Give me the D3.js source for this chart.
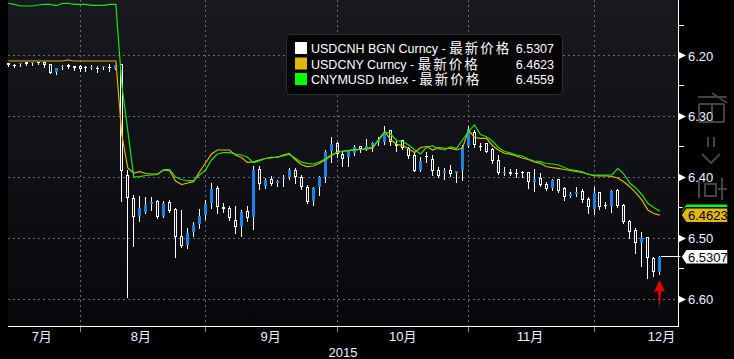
<!DOCTYPE html>
<html>
<head>
<meta charset="utf-8">
<script src="https://cdnjs.cloudflare.com/ajax/libs/d3/7.8.5/d3.min.js"></script>
<style>
    html, body { margin: 0; padding: 0; background: #000; }
    svg { display: block; }
    text { font-family: "Liberation Sans", Arial, "Noto Sans CJK SC", sans-serif; }
</style>
</head>
<body>
<div id="chart"></div>
<script>
// USDCNH daily candles, 16 Jul - mid Dec 2015 (one entry per trading day)
var opens = [
    6.2128, 6.2156, 6.2145, 6.2107, 6.2123, 6.2107, 6.2107, 6.2145, 6.2271, 6.2189,
    6.2151, 6.2172, 6.2177, 6.2184, 6.2205, 6.2205, 6.2194, 6.2189, 6.2222, 6.2145,
    6.3963, 6.4345, 6.4631, 6.4565, 6.4434, 6.4384, 6.4631, 6.4406, 6.4526, 6.4964,
    6.5112, 6.4894, 6.4767, 6.4620, 6.4417, 6.4181, 6.4483, 6.4499, 6.4702, 6.4795,
    6.4554, 6.4657, 6.3869, 6.4143, 6.4028, 6.4099, 6.4034, 6.3992, 6.3881, 6.3992,
    6.4154, 6.4384, 6.4154, 6.4001, 6.3563, 6.3442, 6.3626, 6.3675, 6.3601, 6.3491,
    6.3531, 6.3465, 6.3421, 6.3429, 6.3229, 6.3453, 6.3388, 6.3524, 6.3634, 6.3881,
    6.3651, 6.3705, 6.3881, 6.3925, 6.3881, 6.3925, 6.3881, 6.3481, 6.3252, 6.3486,
    6.3442, 6.3541, 6.3716, 6.3930, 6.3909, 6.3922, 6.3914, 6.3919, 6.4078, 6.4007,
    6.4116, 6.4181, 6.4034, 6.4171, 6.4302, 6.4274, 6.4220, 6.4357, 6.4526, 6.4247,
    6.4455, 6.4466, 6.4214, 6.4455, 6.4718, 6.4866, 6.5075, 6.4986, 6.5321, 6.5561
];
var highs = [
    6.2168, 6.2184, 6.2168, 6.2161, 6.2156, 6.2135, 6.2184, 6.2283, 6.2304, 6.2227,
    6.2205, 6.2238, 6.2255, 6.2255, 6.2222, 6.2271, 6.2217, 6.2255, 6.2222, 6.4384,
    6.5961, 6.5124, 6.4713, 6.4592, 6.4537, 6.4674, 6.4647, 6.4570, 6.5304, 6.5150,
    6.5167, 6.4960, 6.4828, 6.4685, 6.4509, 6.4592, 6.4565, 6.4702, 6.4920, 6.4964,
    6.4713, 6.4850, 6.4197, 6.4181, 6.4127, 6.4138, 6.4138, 6.4034, 6.4090, 6.4197,
    6.4417, 6.4455, 6.4291, 6.4073, 6.3754, 6.3672, 6.3810, 6.3810, 6.3634, 6.3590,
    6.3552, 6.3569, 6.3470, 6.3449, 6.3475, 6.3563, 6.3536, 6.3689, 6.3897, 6.3892,
    6.3744, 6.3963, 6.4001, 6.4028, 6.3979, 6.4073, 6.4044, 6.3498, 6.3508, 6.3552,
    6.3590, 6.3771, 6.3947, 6.3963, 6.3968, 6.4001, 6.4001, 6.4171, 6.4220, 6.4143,
    6.4209, 6.4209, 6.4237, 6.4373, 6.4329, 6.4307, 6.4411, 6.4592, 6.4603, 6.4521,
    6.4510, 6.4565, 6.4483, 6.4746, 6.5002, 6.5239, 6.5457, 6.5660, 6.5617, 6.5594
];
var lows = [
    6.2128, 6.2140, 6.2128, 6.2107, 6.2107, 6.2107, 6.2107, 6.2145, 6.2210, 6.2156,
    6.2135, 6.2172, 6.2156, 6.2168, 6.2156, 6.2168, 6.2168, 6.2145, 6.2161, 6.2145,
    6.3881, 6.4291, 6.4302, 6.4329, 6.4329, 6.4373, 6.4389, 6.4373, 6.4499, 6.4537,
    6.4838, 6.4730, 6.4521, 6.4373, 6.4099, 6.4143, 6.4427, 6.4472, 6.4472, 6.4537,
    6.4472, 6.3815, 6.3810, 6.4016, 6.3979, 6.4044, 6.3963, 6.3853, 6.3853, 6.3963,
    6.4127, 6.4165, 6.3979, 6.3552, 6.3343, 6.3416, 6.3569, 6.3552, 6.3470, 6.3481,
    6.3371, 6.3416, 6.3334, 6.3166, 6.3224, 6.3388, 6.3388, 6.3498, 6.3607, 6.3662,
    6.3580, 6.3634, 6.3826, 6.3853, 6.3799, 6.3892, 6.3470, 6.3158, 6.3224, 6.3432,
    6.3432, 6.3524, 6.3634, 6.3837, 6.3869, 6.3869, 6.3892, 6.3909, 6.3869, 6.3935,
    6.4083, 6.4034, 6.4034, 6.4154, 6.4242, 6.4165, 6.4197, 6.4319, 6.4154, 6.4236,
    6.4401, 6.4209, 6.4197, 6.4444, 6.4702, 6.4838, 6.4894, 6.4976, 6.5304, 6.5293
];
var closes = [
    6.2156, 6.2168, 6.2128, 6.2145, 6.2107, 6.2123, 6.2151, 6.2283, 6.2210, 6.2172,
    6.2194, 6.2210, 6.2227, 6.2205, 6.2189, 6.2222, 6.2168, 6.2205, 6.2161, 6.3892,
    6.4348, 6.4647, 6.4499, 6.4455, 6.4401, 6.4657, 6.4417, 6.4549, 6.4976, 6.5129,
    6.4920, 6.4784, 6.4636, 6.4439, 6.4192, 6.4493, 6.4521, 6.4674, 6.4812, 6.4570,
    6.4674, 6.3881, 6.4110, 6.4044, 6.4110, 6.4061, 6.4007, 6.3881, 6.3992, 6.4166,
    6.4401, 6.4181, 6.4001, 6.3590, 6.3453, 6.3626, 6.3700, 6.3569, 6.3503, 6.3539,
    6.3491, 6.3432, 6.3383, 6.3252, 6.3421, 6.3486, 6.3524, 6.3646, 6.3892, 6.3733,
    6.3667, 6.3892, 6.3979, 6.3892, 6.3947, 6.3892, 6.3508, 6.3212, 6.3470, 6.3503,
    6.3580, 6.3733, 6.3925, 6.3914, 6.3952, 6.3938, 6.3935, 6.4073, 6.4034, 6.4127,
    6.4192, 6.4044, 6.4225, 6.4319, 6.4274, 6.4236, 6.4373, 6.4483, 6.4263, 6.4483,
    6.4472, 6.4225, 6.4466, 6.4730, 6.4894, 6.5075, 6.4993, 6.5331, 6.5561, 6.5307
];
// USDCNY Curncy, last price
var usdcny = [
    6.2090, 6.2090, 6.2090, 6.2090, 6.2090, 6.2090, 6.2090, 6.2090, 6.2090, 6.2090,
    6.2074, 6.2090, 6.2090, 6.2090, 6.2090, 6.2090, 6.2090, 6.2090, 6.2090, 6.3306,
    6.3848, 6.3930, 6.3909, 6.3938, 6.3947, 6.3947, 6.3881, 6.3897, 6.4061, 6.4119,
    6.4094, 6.4073, 6.3909, 6.3766, 6.3618, 6.3552, 6.3552, 6.3552, 6.3634, 6.3675,
    6.3757, 6.3749, 6.3716, 6.3692, 6.3672, 6.3672, 6.3634, 6.3610, 6.3708, 6.3790,
    6.3826, 6.3815, 6.3774, 6.3716, 6.3651, 6.3585, 6.3569, 6.3560, 6.3544, 6.3541,
    6.3536, 6.3519, 6.3371, 6.3251, 6.3388, 6.3459, 6.3478, 6.3536, 6.3593, 6.3511,
    6.3495, 6.3552, 6.3514, 6.3524, 6.3527, 6.3552, 6.3519, 6.3224, 6.3347, 6.3360,
    6.3360, 6.3478, 6.3552, 6.3606, 6.3621, 6.3651, 6.3684, 6.3708, 6.3749, 6.3771,
    6.3823, 6.3843, 6.3853, 6.3873, 6.3889, 6.3905, 6.3922, 6.3947, 6.3975, 6.3979,
    6.3979, 6.3988, 6.4012, 6.4078, 6.4155, 6.4258, 6.4373, 6.4537, 6.4595, 6.4623
];
// CNYMUSD Index, last price
var cnymusd = [
    6.1142, 6.1159, 6.1187, 6.1187, 6.1187, 6.1170, 6.1159, 6.1159, 6.1182, 6.1146,
    6.1142, 6.1159, 6.1159, 6.1159, 6.1175, 6.1175, 6.1175, 6.1159, 6.1159, 6.2484,
    6.3240, 6.3996, 6.3991, 6.3971, 6.3963, 6.3955, 6.3873, 6.3873, 6.3996, 6.4037,
    6.4057, 6.4057, 6.3963, 6.3881, 6.3716, 6.3618, 6.3597, 6.3597, 6.3618, 6.3634,
    6.3667, 6.3761, 6.3733, 6.3692, 6.3684, 6.3667, 6.3651, 6.3626, 6.3684, 6.3749,
    6.3771, 6.3782, 6.3749, 6.3700, 6.3634, 6.3593, 6.3577, 6.3563, 6.3555, 6.3544,
    6.3527, 6.3495, 6.3388, 6.3257, 6.3290, 6.3400, 6.3416, 6.3470, 6.3552, 6.3618,
    6.3503, 6.3486, 6.3536, 6.3552, 6.3503, 6.3527, 6.3388, 6.3252, 6.3141, 6.3298,
    6.3334, 6.3405, 6.3511, 6.3577, 6.3597, 6.3634, 6.3651, 6.3700, 6.3733, 6.3744,
    6.3774, 6.3782, 6.3794, 6.3840, 6.3876, 6.3889, 6.3905, 6.3955, 6.3963, 6.3963,
    6.3963, 6.3963, 6.3853, 6.3947, 6.4099, 6.4176, 6.4283, 6.4428, 6.4497, 6.4559
];

// axis stuff (trading-day index of each month start)
var monthStarts = [12, 33, 55, 77, 98];
var monthNames = ["7月", "8月", "9月", "10月", "11月", "12月"];
var monthNamePos = [5.6, 22.2, 43.9, 66, 87.3, 109.3];
var yTicks = [6.20, 6.30, 6.40, 6.50, 6.60];
var yMinorTicks = [6.15, 6.25, 6.35, 6.45, 6.55];
var seriesNames = ["USDCNH BGN Curncy", "USDCNY Curncy", "CNYMUSD Index"];
var seriesLast = [6.5307, 6.4623, 6.4559];
var seriesColors = ["#ffffff", "#e2b712", "#00ff00"];

var W = 734, H = 359;
var plot = {left: 8, right: 678, top: 0, bottom: 326};

var x = d3.scaleLinear().domain([12, 98]).range([80, 594]);
var y = d3.scaleLinear().domain([6.2, 6.6]).range([55.5, 299]);

var svg = d3.select("#chart").append("svg")
        .attr("width", W)
        .attr("height", H);

svg.append("rect").attr("width", W).attr("height", H).attr("fill", "#000");

var grad = svg.append("defs").append("linearGradient")
        .attr("id", "bg").attr("x1", 0).attr("y1", 0).attr("x2", 0).attr("y2", 1);
grad.append("stop").attr("offset", "0%").attr("stop-color", "#18191f");
grad.append("stop").attr("offset", "100%").attr("stop-color", "#08080c");

svg.append("rect")
        .attr("x", plot.left).attr("y", plot.top)
        .attr("width", plot.right - plot.left)
        .attr("height", plot.bottom - plot.top)
        .attr("fill", "url(#bg)");

// grid
var grid = svg.append("g").attr("stroke", "#6c6c70").attr("stroke-dasharray", "2,3");
grid.selectAll("line.h").data(yTicks).enter().append("line")
        .attr("x1", plot.left).attr("x2", plot.right)
        .attr("y1", function(d) { return Math.floor(y(d)) + 0.5; })
        .attr("y2", function(d) { return Math.floor(y(d)) + 0.5; });
grid.selectAll("line.v").data(monthStarts).enter().append("line")
        .attr("y1", plot.top).attr("y2", plot.bottom)
        .attr("x1", function(d) { return Math.floor(x(d)) + 0.5; })
        .attr("x2", function(d) { return Math.floor(x(d)) + 0.5; });

// candles
var candles = svg.append("g").attr("shape-rendering", "crispEdges");
closes.forEach(function(c, i) {
    var o = opens[i];
    var cx = Math.floor(x(i));
    var yTop = Math.round(y(Math.min(o, c)));
    var yBot = Math.round(y(Math.max(o, c)));
    var h = Math.max(1, yBot - yTop);
    var up = c >= o;

    candles.append("line")
            .attr("x1", cx + 0.5).attr("x2", cx + 0.5)
            .attr("y1", Math.round(y(lows[i]))).attr("y2", yTop)
            .attr("stroke", "#fff");
    candles.append("line")
            .attr("x1", cx + 0.5).attr("x2", cx + 0.5)
            .attr("y1", yTop + h).attr("y2", Math.round(y(highs[i])) + 1)
            .attr("stroke", "#fff");

    if (!up) {
        candles.append("rect")
                .attr("x", cx - 1).attr("y", yTop)
                .attr("width", 3).attr("height", h)
                .attr("fill", "#1a82ea");
    } else if (h >= 3) {
        candles.append("rect")
                .attr("x", cx - 0.5).attr("y", yTop + 0.5)
                .attr("width", 2).attr("height", h - 1)
                .attr("fill", "none")
                .attr("stroke", "#fff");
    } else {
        candles.append("rect")
                .attr("x", cx - 1).attr("y", yTop)
                .attr("width", 3).attr("height", h)
                .attr("fill", "#fff");
    }
});

// the two fixing lines
var line = d3.line()
        .x(function(d, i) { return x(i); })
        .y(function(d) { return y(d); });

svg.append("path").datum(usdcny)
        .attr("d", line)
        .attr("fill", "none")
        .attr("stroke", "#e8b400")
        .attr("stroke-width", 1.2);
svg.append("path").datum(cnymusd)
        .attr("d", line)
        .attr("fill", "none")
        .attr("stroke", "#14e814")
        .attr("stroke-width", 1.2);

// last price line for USDCNH
var lastI = closes.length - 1;
svg.append("line")
        .attr("x1", Math.floor(x(lastI)) + 2).attr("x2", plot.right + 3)
        .attr("y1", Math.floor(y(closes[lastI])) + 0.5)
        .attr("y2", Math.floor(y(closes[lastI])) + 0.5)
        .attr("stroke", "#fff");

// axes
svg.append("line")
        .attr("x1", plot.right + 0.5).attr("x2", plot.right + 0.5)
        .attr("y1", 0).attr("y2", plot.bottom + 1)
        .attr("stroke", "#fff");
svg.append("line")
        .attr("x1", plot.left).attr("x2", plot.right + 1)
        .attr("y1", plot.bottom + 0.5).attr("y2", plot.bottom + 0.5)
        .attr("stroke", "#fff");

var yAxis = svg.append("g");
yAxis.selectAll("path").data(yTicks).enter().append("path")
        .attr("d", function(d) {
            var yy = Math.floor(y(d)) + 0.5;
            return "M" + (plot.right + 1) + "," + (yy - 3.5) + "L" + (plot.right + 8) + "," + yy +
                    "L" + (plot.right + 1) + "," + (yy + 3.5) + "Z";
        })
        .attr("fill", "#fff");
yAxis.selectAll("line").data(yMinorTicks).enter().append("line")
        .attr("x1", plot.right + 1).attr("x2", plot.right + 6)
        .attr("y1", function(d) { return Math.floor(y(d)) + 0.5; })
        .attr("y2", function(d) { return Math.floor(y(d)) + 0.5; })
        .attr("stroke", "#fff");
yAxis.selectAll("text").data(yTicks).enter().append("text")
        .attr("x", plot.right + 10)
        .attr("y", function(d) { return y(d) + 5; })
        .attr("fill", "#eef3ff")
        .style("font-size", "13px")
        .text(function(d) { return d.toFixed(2); });

var xAxis = svg.append("g");
xAxis.selectAll("line").data(monthStarts).enter().append("line")
        .attr("x1", function(d) { return Math.floor(x(d)) + 0.5; })
        .attr("x2", function(d) { return Math.floor(x(d)) + 0.5; })
        .attr("y1", plot.bottom + 1).attr("y2", plot.bottom + 6)
        .attr("stroke", "#8a8a8a");
xAxis.selectAll("text").data(monthNames).enter().append("text")
        .attr("x", function(d, i) { return x(monthNamePos[i]); })
        .attr("y", 341)
        .attr("text-anchor", "middle")
        .attr("fill", "#eef3ff")
        .style("font-size", "13px")
        .text(function(d) { return d; });
xAxis.append("text")
        .attr("x", (plot.left + plot.right) / 2)
        .attr("y", 357)
        .attr("text-anchor", "middle")
        .attr("fill", "#eef3ff")
        .style("font-size", "13px")
        .text("2015");

// legend
var legend = svg.append("g").attr("transform", "translate(286,34)");
legend.append("rect")
        .attr("x", 0.5).attr("y", 0.5)
        .attr("width", 276).attr("height", 60)
        .attr("rx", 4)
        .attr("fill", "#040405")
        .attr("stroke", "#2e2e33");
var rows = legend.selectAll("g.row").data(seriesNames).enter().append("g")
        .attr("transform", function(d, i) { return "translate(0," + (i * 15.5) + ")"; });
rows.append("rect")
        .attr("x", 9).attr("y", 8)
        .attr("width", 12).attr("height", 12)
        .attr("fill", function(d, i) { return seriesColors[i]; });
var rowText = rows.append("text")
        .attr("x", 25).attr("y", 19)
        .attr("fill", "#fff")
        .style("font-size", "12.5px");
rowText.append("tspan").text(function(d) { return d + " - "; });
rowText.append("tspan")
        .style("font-size", "13.5px")
        .style("letter-spacing", "2px")
        .text("最新价格");
rows.append("text")
        .attr("x", 268).attr("y", 19)
        .attr("text-anchor", "end")
        .attr("fill", "#fff")
        .style("font-size", "12.5px")
        .text(function(d, i) { return seriesLast[i].toFixed(4); });

// price tags on the right axis; the green one is mostly hidden under yellow,
// so only its shape is drawn
function tag(v, fill, showText) {
    var yc = y(v);
    var g = svg.append("g");
    g.append("path")
            .attr("d", "M" + (plot.right + 3) + "," + yc + "L" + (plot.right + 8) + "," + (yc - 7.5) +
                    "L" + (plot.right + 50) + "," + (yc - 7.5) + "L" + (plot.right + 50) + "," + (yc + 7.5) +
                    "L" + (plot.right + 8) + "," + (yc + 7.5) + "Z")
            .attr("fill", fill)
            .attr("stroke", "#000")
            .attr("stroke-width", 1.5);
    if (showText) {
        g.append("text")
                .attr("x", plot.right + 10).attr("y", yc + 5)
                .attr("fill", "#000")
                .style("font-size", "13px")
                .text(v.toFixed(4));
    }
}
tag(seriesLast[2], seriesColors[2], false);
tag(seriesLast[1], seriesColors[1], true);
tag(seriesLast[0], seriesColors[0], true);

// red arrow under the last candle
var ax = Math.floor(x(lastI)) + 0.5;
svg.append("path")
        .attr("d", "M" + ax + ",280 L" + (ax + 5.5) + ",292 L" + (ax + 1.5) + ",291 L" + ax + ",309 L" +
                (ax - 1.5) + ",291 L" + (ax - 5.5) + ",292 Z")
        .attr("fill", "#e80000");

// faint terminal buttons on the right edge
svg.append("path")
        .attr("d", "M698,97H727M712,93L727,103M699,104H724M699,104V122M712,104V122M724,104V122M699,122H724" +
                "M708,137V147M714,137V147" +
                "M702,154L711,163L720,154" +
                "M699,180V198M705,184H716V196H705ZM722,178V200M718,189H727")
        .attr("fill", "none")
        .attr("stroke", "#7a7a7a")
        .attr("stroke-width", 2)
        .attr("opacity", 0.55);
</script>
</body>
</html>
